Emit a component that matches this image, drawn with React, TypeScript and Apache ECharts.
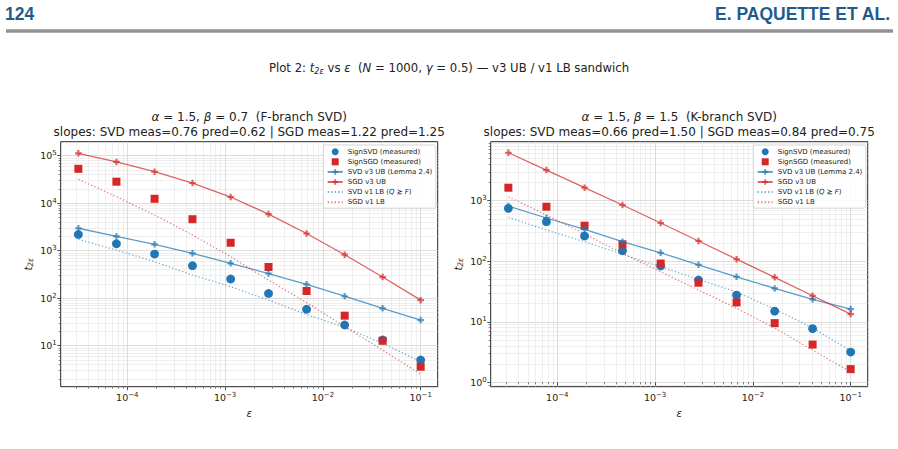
import React, { useEffect, useRef } from "react";
import * as echarts from "echarts";

// step sizes (epsilon), shared by both panels
const EPS = [3.16e-5, 7.74e-5, 1.9e-4, 4.64e-4, 1.14e-3, 2.78e-3, 6.81e-3, 1.67e-2, 4.08e-2, 1.0e-1];

// panel 1: alpha = 1.5, beta = 0.7 (F-branch)
const F_SIGN_SVD = [2200, 1400, 851, 483, 254, 126, 58.6, 27.3, 13.2, 5.0];
const F_SIGN_SGD = [53000, 28400, 12400, 4600, 1470, 454, 142, 42.9, 12.7, 3.6];
const F_SVD_UB = [2970, 2000, 1360, 881, 543, 331, 196, 110, 61.2, 34.7];
const F_SGD_UB = [112000, 74000, 46000, 26600, 13500, 5900, 2300, 824, 279, 91];
const F_SVD_LB = [1740, 1035, 586, 308, 175, 91.6, 45.4, 24.4, 11.2, 4.6];
const F_SGD_LB = [31800, 13700, 5650, 2140, 748, 241, 81, 25.1, 8.1, 2.5];

// panel 2: alpha = 1.5, beta = 1.5 (K-branch)
const K_SIGN_SVD = [748, 450, 261, 149, 84, 49, 27.6, 15, 7.7, 3.16];
const K_SIGN_SGD = [1640, 796, 387, 190, 91.6, 44.2, 20.9, 9.5, 4.2, 1.65];
const K_SVD_UB = [817, 518, 337, 210, 138, 87.4, 55.4, 35.6, 23.4, 16.2];
const K_SGD_UB = [6200, 3210, 1640, 849, 428, 216, 108, 54.2, 26.9, 13.4];
const K_SVD_LB = [532, 328, 210, 130, 81, 50.2, 31, 16.2, 7.9, 3.3];
const K_SGD_LB = [1164, 581, 282, 135, 67, 33.4, 16.7, 7.9, 3.4, 1.48];

// decade exponents that carry tick labels
const X_TICKS = [-4, -3, -2, -1];
const Y_TICKS_F = [1, 2, 3, 4, 5];
const Y_TICKS_K = [0, 1, 2, 3];

const SERIES_NAMES = [
  "SignSVD (measured)",
  "SignSGD (measured)",
  "SVD v3 UB (Lemma 2.4)",
  "SGD v3 UB",
  "SVD v1 LB (Q \u2AB0 F)",
  "SGD v1 LB",
];

const MAIN_TITLE =
  "Plot 2: {i|t}{sub|2\u03B5} vs {i|\u03B5}  ({i|N} = 1000, {i|\u03B3} = 0.5) \u2014 v3 UB / v1 LB sandwich";
const PANEL_TITLES = [
  ["{i|\u03B1} = 1.5, {i|\u03B2} = 0.7  (F-branch SVD)", "slopes: SVD meas=0.76 pred=0.62 | SGD meas=1.22 pred=1.25"],
  ["{i|\u03B1} = 1.5, {i|\u03B2} = 1.5  (K-branch SVD)", "slopes: SVD meas=0.66 pred=1.50 | SGD meas=0.84 pred=0.75"],
];

const FONT = "DejaVu Sans";
const BLUE = "#1f77b4";
const RED = "#d62728";
const INK = "#222222";
const SPINE = "#262626";
const PLUS = "path://M1,0H2V1H3V2H2V3H1V2H0V1H1Z";
const SQUARE = "path://M0,0H1V1H0Z";

const X_RANGE = [-4.681, -0.826];
const PANELS = [
  {
    left: 60.7,
    yRange: [0.137, 5.295],
    yTicks: Y_TICKS_F,
    legendLeft: 323.3,
    data: [F_SIGN_SVD, F_SIGN_SGD, F_SVD_UB, F_SGD_UB, F_SVD_LB, F_SGD_LB],
    titles: PANEL_TITLES[0],
  },
  {
    left: 490.7,
    yRange: [-0.073, 3.975],
    yTicks: Y_TICKS_K,
    legendLeft: 753.3,
    data: [K_SIGN_SVD, K_SIGN_SGD, K_SVD_UB, K_SGD_UB, K_SVD_LB, K_SGD_LB],
    titles: PANEL_TITLES[1],
  },
];
const GRID_TOP = 141.7;
const GRID_W = 377;
const GRID_H = 245;

// minor log positions (2..9 times each decade) inside a range
function minorLogs(lo: number, hi: number): number[] {
  const out: number[] = [];
  for (let d = Math.floor(lo) - 1; d <= Math.ceil(hi); d++) {
    for (let k = 2; k <= 9; k++) {
      const v = d + Math.log10(k);
      if (v > lo && v < hi) out.push(v);
    }
  }
  return out;
}

const pow10Label = (v: number) => {
  const e = Math.round(v);
  return `10{sup|${e < 0 ? "\u2212" + -e : e}}`;
};

const LABEL_RICH = {
  sup: { fontSize: 7, fontFamily: FONT, color: INK, lineHeight: 7, verticalAlign: "top", padding: [0, 0, 5, 0] },
};

const NAME_RICH = {
  i: { fontSize: 10, fontFamily: FONT, fontStyle: "italic", color: INK, lineHeight: 13 },
  s: { fontSize: 7.5, fontFamily: FONT, fontStyle: "italic", color: INK, lineHeight: 8, verticalAlign: "bottom", padding: [5, 0, 0, 0] },
};

const toPts = (ys: number[]) => EPS.map((e, k) => [Math.log10(e), Math.log10(ys[k])]);

function buildOption() {
  const grid: any[] = [];
  const xAxis: any[] = [];
  const yAxis: any[] = [];
  const series: any[] = [];
  const legend: any[] = [];

  PANELS.forEach((p, i) => {
    grid.push({
      left: p.left,
      top: GRID_TOP,
      width: GRID_W,
      height: GRID_H,
      show: true,
      borderColor: SPINE,
      borderWidth: 1,
      backgroundColor: "transparent",
    });

    const xBase = { type: "value", gridIndex: i, min: X_RANGE[0], max: X_RANGE[1], position: "bottom", axisLine: { show: false } };
    xAxis.push({
      ...xBase,
      axisTick: { show: true, customValues: X_TICKS, length: 3.5, lineStyle: { color: SPINE, width: 0.8 } },
      axisLabel: {
        customValues: X_TICKS,
        formatter: pow10Label,
        margin: 5,
        color: INK,
        fontFamily: FONT,
        fontSize: 9.5,
        lineHeight: 12,
        rich: LABEL_RICH,
      },
      splitLine: { show: true, lineStyle: { color: "#d4d4d4", width: 0.8 } },
      name: "{i|\u03B5}",
      nameLocation: "middle",
      nameGap: 20,
      nameTextStyle: { rich: NAME_RICH },
    });
    xAxis.push({
      ...xBase,
      axisTick: { show: true, customValues: minorLogs(X_RANGE[0], X_RANGE[1]), length: 2, lineStyle: { color: SPINE, width: 0.6 } },
      axisLabel: { show: false },
      splitLine: { show: true, lineStyle: { color: "#e4e4e4", width: 0.6 } },
    });

    const yBase = { type: "value", gridIndex: i, min: p.yRange[0], max: p.yRange[1], position: "left", axisLine: { show: false } };
    yAxis.push({
      ...yBase,
      axisTick: { show: true, customValues: p.yTicks, length: 3.5, lineStyle: { color: SPINE, width: 0.8 } },
      axisLabel: {
        customValues: p.yTicks,
        formatter: pow10Label,
        margin: 4,
        color: INK,
        fontFamily: FONT,
        fontSize: 9.5,
        lineHeight: 12,
        rich: LABEL_RICH,
      },
      splitLine: { show: true, lineStyle: { color: "#d4d4d4", width: 0.8 } },
      name: "{i|t}{s|2\u03B5}",
      nameLocation: "middle",
      nameRotate: 90,
      nameGap: 26,
      nameTextStyle: { rich: NAME_RICH },
    });
    yAxis.push({
      ...yBase,
      axisTick: { show: true, customValues: minorLogs(p.yRange[0], p.yRange[1]), length: 2, lineStyle: { color: SPINE, width: 0.6 } },
      axisLabel: { show: false },
      splitLine: { show: true, lineStyle: { color: "#e4e4e4", width: 0.6 } },
    });

    const ax = { xAxisIndex: 2 * i, yAxisIndex: 2 * i, silent: true };
    const [svd, sgd, svdUb, sgdUb, svdLb, sgdLb] = p.data;
    series.push(
      { ...ax, type: "scatter", name: SERIES_NAMES[0], data: toPts(svd), symbol: "circle", symbolSize: 8.8, itemStyle: { color: BLUE, opacity: 1 } },
      { ...ax, type: "scatter", name: SERIES_NAMES[1], data: toPts(sgd), symbol: "rect", symbolSize: 8, itemStyle: { color: RED, opacity: 1 } },
      {
        ...ax,
        type: "line",
        name: SERIES_NAMES[2],
        data: toPts(svdUb),
        symbol: PLUS,
        symbolSize: 6.5,
        showSymbol: true,
        itemStyle: { color: BLUE, opacity: 0.72 },
        lineStyle: { color: BLUE, width: 1.3, opacity: 0.72 },
      },
      {
        ...ax,
        type: "line",
        name: SERIES_NAMES[3],
        data: toPts(sgdUb),
        symbol: PLUS,
        symbolSize: 6.5,
        showSymbol: true,
        itemStyle: { color: RED, opacity: 0.72 },
        lineStyle: { color: RED, width: 1.3, opacity: 0.72 },
      },
      {
        ...ax,
        type: "line",
        name: SERIES_NAMES[4],
        data: toPts(svdLb),
        symbol: "none",
        showSymbol: false,
        itemStyle: { color: BLUE, opacity: 0 },
        lineStyle: { color: BLUE, width: 1.2, opacity: 0.62, type: [1.3, 2.2] },
      },
      {
        ...ax,
        type: "line",
        name: SERIES_NAMES[5],
        data: toPts(sgdLb),
        symbol: "none",
        showSymbol: false,
        itemStyle: { color: RED, opacity: 0 },
        lineStyle: { color: RED, width: 1.2, opacity: 0.62, type: [1.3, 2.2] },
      }
    );

    legend.push({
      data: SERIES_NAMES.map((name, k) => (k === 1 ? { name, icon: SQUARE } : { name })),
      orient: "vertical",
      left: p.legendLeft,
      top: 145,
      itemWidth: 15,
      itemHeight: 7,
      itemGap: 2.1,
      symbolKeepAspect: true,
      padding: [2.7, 3.5, 2, 3.4],
      selectedMode: false,
      backgroundColor: "rgba(255,255,255,0.85)",
      borderColor: "#cccccc",
      borderWidth: 0.8,
      borderRadius: 2,
      formatter: (name: string) => name.replace("(Q \u2AB0 F)", "({i|Q} \u2AB0 {i|F})"),
      textStyle: {
        fontFamily: FONT,
        fontSize: 7,
        lineHeight: 8,
        color: INK,
        rich: { i: { fontFamily: FONT, fontSize: 7, lineHeight: 8, fontStyle: "italic", color: INK } },
      },
    });
  });

  const titleRich = {
    i: { fontFamily: FONT, fontSize: 12, fontStyle: "italic", color: INK, lineHeight: 15.6 },
  };
  const graphic: any[] = [
    // running header
    {
      type: "text",
      x: 5,
      y: 13.5,
      style: { text: "124", fontFamily: "Liberation Sans", fontWeight: "bold", fontSize: 17.5, fill: "#1f5c8e", verticalAlign: "middle" },
    },
    {
      type: "text",
      x: 890,
      y: 13.5,
      style: {
        text: "E. PAQUETTE ET AL.",
        fontFamily: "Liberation Sans",
        fontWeight: "bold",
        fontSize: 17.5,
        fill: "#1f5c8e",
        align: "right",
        verticalAlign: "middle",
      },
    },
    { type: "rect", shape: { x: 6, y: 29.3, width: 887, height: 3.4 }, style: { fill: "#929292" } },
    {
      type: "text",
      x: 449,
      y: 68,
      style: {
        text: MAIN_TITLE,
        fontFamily: FONT,
        fontSize: 11.7,
        fill: INK,
        align: "center",
        verticalAlign: "middle",
        rich: {
          i: { fontFamily: FONT, fontSize: 11.7, fontStyle: "italic", color: INK, lineHeight: 14 },
          sub: { fontFamily: FONT, fontSize: 8, fontStyle: "italic", color: INK, lineHeight: 8, verticalAlign: "bottom", padding: [5, 0, 0, 0] },
        },
      },
    },
  ];
  PANELS.forEach((p) => {
    const cx = p.left + GRID_W / 2;
    p.titles.forEach((t, k) => {
      graphic.push({
        type: "text",
        x: cx,
        y: 116.7 + k * 15.6,
        style: {
          text: t,
          fontFamily: FONT,
          fontSize: 12,
          fill: INK,
          align: "center",
          verticalAlign: "middle",
          rich: titleRich,
        },
      });
    });
  });

  return {
    animation: false,
    backgroundColor: "#ffffff",
    textStyle: { fontFamily: FONT },
    grid,
    xAxis,
    yAxis,
    legend,
    series,
    graphic,
  };
}

export default function App() {
  const ref = useRef<HTMLDivElement>(null);
  useEffect(() => {
    if (!ref.current) return;
    const chart = echarts.init(ref.current, undefined, { renderer: "svg" });
    chart.setOption(buildOption() as any);
    return () => chart.dispose();
  }, []);
  return <div ref={ref} style={{ position: "absolute", left: 0, top: 0, width: 898, height: 449 }} />;
}
